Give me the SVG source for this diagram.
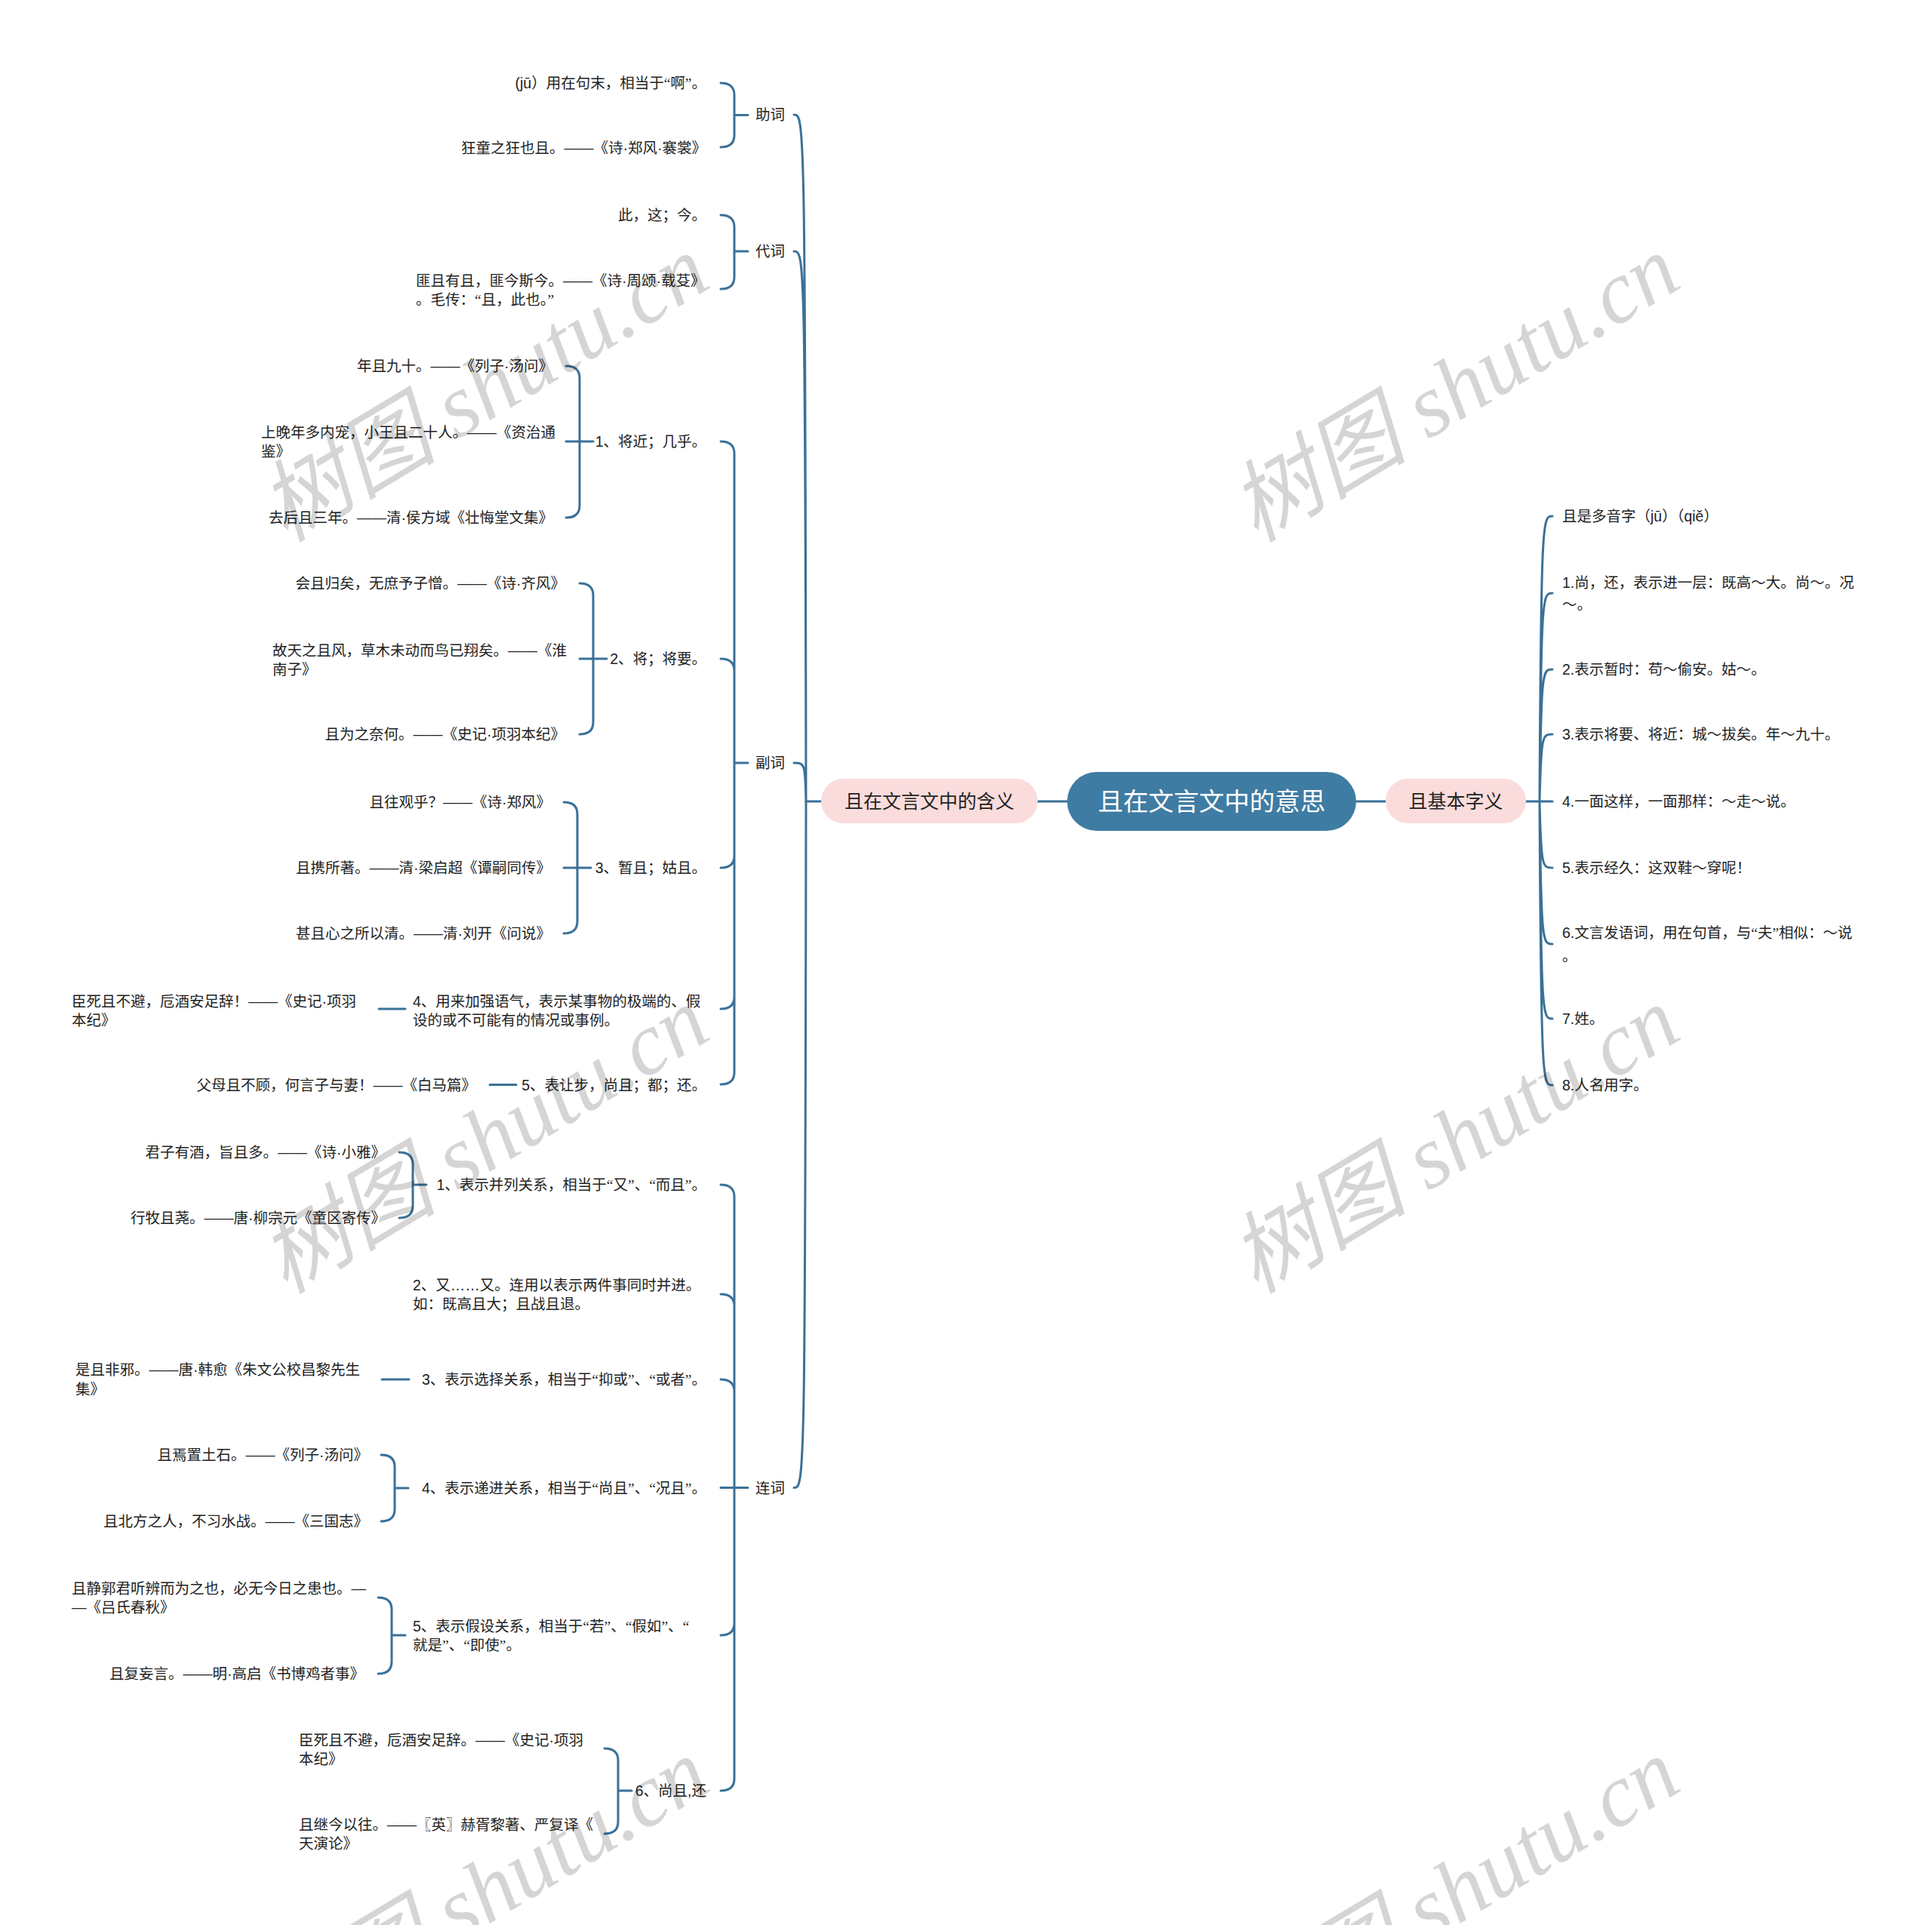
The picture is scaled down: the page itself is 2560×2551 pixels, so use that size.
<svg xmlns="http://www.w3.org/2000/svg" width="2560" height="2551" viewBox="0 0 2560 2551">
<style>
.t{font-family:"Liberation Sans","Noto Sans CJK SC",sans-serif;font-size:19.5px;fill:#222}
.q{font-family:"Liberation Serif","Noto Sans CJK SC",serif}
.r{text-anchor:end}
.c{stroke:#3b7198;stroke-width:3;fill:none;stroke-linecap:round}
.wm{font-family:"Liberation Serif","Noto Sans CJK SC",serif;font-style:italic;font-size:118px;fill:#000;opacity:0.16;text-anchor:middle}
</style>
<rect width="2560" height="2551" fill="#fff"/>
<g id="connectors">
<path class="c" d="M1375 1062H1414M1797 1062H1836M2021 1062H2057M1068 1062H1088"/>
<path class="c" d="M1068 1062C1067 152 1066 152 1052 152M1068 1062C1067 333 1066 333 1052 333M1068 1062C1067 1011 1066 1011 1052 1011M1068 1062C1067 1971.5 1066 1971.5 1052 1971.5"/>
<path class="c" d="M2040 1062C2042 684 2044 684 2057 684M2040 1062C2042 786 2044 786 2057 786M2040 1062C2042 887 2044 887 2057 887M2040 1062C2042 973 2044 973 2057 973M2040 1062C2042 1150 2044 1150 2057 1150M2040 1062C2042 1251 2044 1251 2057 1251M2040 1062C2042 1350 2044 1350 2057 1350M2040 1062C2042 1438 2044 1438 2057 1438"/>
<path class="c" d="M955 110Q973 110 973 126L973 179Q973 195 955 195M973 152.5H991"/>
<path class="c" d="M955 285Q973 285 973 301L973 367Q973 383 955 383M973 333H991"/>
<path class="c" d="M955 585Q973 585 973 601L973 1421Q973 1437 955 1437M955 873Q973 873 973 889M955 1150Q973 1150 973 1134M955 1337Q973 1337 973 1321M973 1011H991"/>
<path class="c" d="M750 485Q768 485 768 501L768 670Q768 686 750 686M750 585H786"/>
<path class="c" d="M768 773Q786 773 786 789L786 957Q786 973 768 973M768 873H804"/>
<path class="c" d="M747 1063Q765 1063 765 1079L765 1221Q765 1237 747 1237M747 1150H783"/>
<path class="c" d="M502 1337H537M649 1437.5H684"/>
<path class="c" d="M955 1570Q973 1570 973 1586L973 2357Q973 2373 955 2373M955 1715Q973 1715 973 1731M955 1828Q973 1828 973 1844M955 2167Q973 2167 973 2151M955 1971.5H991"/>
<path class="c" d="M529 1527Q547 1527 547 1543L547 1598Q547 1614 529 1614M547 1570H565"/>
<path class="c" d="M506 1828H542"/>
<path class="c" d="M505 1928Q523 1928 523 1944L523 2000Q523 2016 505 2016M523 1972H541"/>
<path class="c" d="M501 2117Q519 2117 519 2133L519 2202Q519 2218 501 2218M519 2167H537"/>
<path class="c" d="M801 2317Q819 2317 819 2333L819 2414Q819 2430 801 2430M819 2373H837"/>
</g>
<g id="root"><rect x="1414" y="1023" width="383" height="78" rx="39" fill="#3f7ca3"/><text x="1605.5" y="1074" font-family="Noto Sans CJK SC,sans-serif" font-size="33.5" fill="#fff" text-anchor="middle">且在文言文中的意思</text></g>
<g id="n-left"><rect x="1088" y="1032" width="287" height="59" rx="29.5" fill="#fadcdc"/><text x="1231.5" y="1071" font-family="Noto Sans CJK SC,sans-serif" font-size="25" fill="#222" text-anchor="middle">且在文言文中的含义</text></g>
<g id="n-right"><rect x="1836" y="1032" width="186" height="59" rx="29.5" fill="#fadcdc"/><text x="1929" y="1071" font-family="Noto Sans CJK SC,sans-serif" font-size="25" fill="#222" text-anchor="middle">且基本字义</text></g>
<g id="right-items">
<g id="r0"><text class="t" x="2070" y="691">且是多音字（jū）（qiě）</text></g>
<g id="r1"><text class="t" x="2070" y="779">1.尚，还，表示进一层：既高～大。尚～。况<tspan x="2070" dy="29">～。</tspan></text></g>
<g id="r2"><text class="t" x="2070" y="894">2.表示暂时：苟～偷安。姑～。</text></g>
<g id="r3"><text class="t" x="2070" y="980">3.表示将要、将近：城～拔矣。年～九十。</text></g>
<g id="r4"><text class="t" x="2070" y="1069">4.一面这样，一面那样：～走～说。</text></g>
<g id="r5"><text class="t" x="2070" y="1157">5.表示经久：这双鞋～穿呢！</text></g>
<g id="r6"><text class="t" x="2070" y="1243">6.文言发语词，用在句首，与<tspan class="q">“</tspan>夫<tspan class="q">”</tspan>相似：～说<tspan x="2070" dy="31">。</tspan></text></g>
<g id="r7"><text class="t" x="2070" y="1357">7.姓。</text></g>
<g id="r8"><text class="t" x="2070" y="1445">8.人名用字。</text></g>
</g>
<g id="l1-labels">
<g id="zhuci"><text class="t" x="1001" y="159">助词</text></g>
<g id="daici"><text class="t" x="1001" y="340">代词</text></g>
<g id="fuci"><text class="t" x="1001" y="1018">副词</text></g>
<g id="lianci"><text class="t" x="1001" y="1978.5">连词</text></g>
</g>
<g id="l2">
<g id="z1"><text class="t r" x="936" y="117">(jū）用在句末，相当于<tspan class="q">“</tspan>啊<tspan class="q">”</tspan>。</text></g>
<g id="z2"><text class="t r" x="936" y="203">狂童之狂也且。——《诗·郑风·褰裳》</text></g>
<g id="d1"><text class="t r" x="936" y="292">此，这；今。</text></g>
<g id="d2"><text class="t" x="551" y="379">匪且有且，匪今斯今。——《诗·周颂·载芟》<tspan x="551" dy="25">。毛传：</tspan><tspan class="q">“</tspan>且，此也。<tspan class="q">”</tspan></text></g>
<g id="f1"><text class="t r" x="936" y="592">1、将近；几乎。</text></g>
<g id="f2"><text class="t r" x="936" y="880">2、将；将要。</text></g>
<g id="f3"><text class="t r" x="936" y="1157">3、暂且；姑且。</text></g>
<g id="f4"><text class="t" x="547" y="1334">4、用来加强语气，表示某事物的极端的、假<tspan x="547" dy="25">设的或不可能有的情况或事例。</tspan></text></g>
<g id="f5"><text class="t r" x="936" y="1444.5">5、表让步，尚且；都；还。</text></g>
<g id="c1"><text class="t r" x="936" y="1577">1、表示并列关系，相当于<tspan class="q">“</tspan>又<tspan class="q">”</tspan>、<tspan class="q">“</tspan>而且<tspan class="q">”</tspan>。</text></g>
<g id="c2"><text class="t" x="547" y="1710">2、又……又。连用以表示两件事同时并进。<tspan x="547" dy="25">如：既高且大；且战且退。</tspan></text></g>
<g id="c3"><text class="t r" x="936" y="1835">3、表示选择关系，相当于<tspan class="q">“</tspan>抑或<tspan class="q">”</tspan>、<tspan class="q">“</tspan>或者<tspan class="q">”</tspan>。</text></g>
<g id="c4"><text class="t r" x="936" y="1979">4、表示递进关系，相当于<tspan class="q">“</tspan>尚且<tspan class="q">”</tspan>、<tspan class="q">“</tspan>况且<tspan class="q">”</tspan>。</text></g>
<g id="c5"><text class="t" x="547" y="2162">5、表示假设关系，相当于<tspan class="q">“</tspan>若<tspan class="q">”</tspan>、<tspan class="q">“</tspan>假如<tspan class="q">”</tspan>、<tspan class="q">“</tspan><tspan x="547" dy="25">就是</tspan><tspan class="q">”</tspan>、<tspan class="q">“</tspan>即使<tspan class="q">”</tspan>。</text></g>
<g id="c6"><text class="t r" x="936" y="2380">6、尚且,还</text></g>
</g>
<g id="l3">
<g id="f1a"><text class="t r" x="733" y="492">年且九十。——《列子·汤问》</text></g>
<g id="f1b"><text class="t" x="346" y="580">上晚年多内宠，小王且二十人。——《资治通<tspan x="346" dy="25">鉴》</tspan></text></g>
<g id="f1c"><text class="t r" x="733" y="693">去后且三年。——清·侯方域《壮悔堂文集》</text></g>
<g id="f2a"><text class="t r" x="749" y="780">会且归矣，无庶予子憎。——《诗·齐风》</text></g>
<g id="f2b"><text class="t" x="361" y="869">故天之且风，草木未动而鸟已翔矣。——《淮<tspan x="361" dy="25">南子》</tspan></text></g>
<g id="f2c"><text class="t r" x="749" y="980">且为之奈何。——《史记·项羽本纪》</text></g>
<g id="f3a"><text class="t r" x="730" y="1070">且往观乎？——《诗·郑风》</text></g>
<g id="f3b"><text class="t r" x="730" y="1157">且携所著。——清·梁启超《谭嗣同传》</text></g>
<g id="f3c"><text class="t r" x="730" y="1244">甚且心之所以清。——清·刘开《问说》</text></g>
<g id="f4a"><text class="t" x="95" y="1334">臣死且不避，卮酒安足辞！——《史记·项羽<tspan x="95" dy="25">本纪》</tspan></text></g>
<g id="f5a"><text class="t r" x="631" y="1445">父母且不顾，何言子与妻！——《白马篇》</text></g>
<g id="c1a"><text class="t r" x="511" y="1534">君子有酒，旨且多。——《诗·小雅》</text></g>
<g id="c1b"><text class="t r" x="511" y="1621">行牧且荛。——唐·柳宗元《童区寄传》</text></g>
<g id="c3a"><text class="t" x="100" y="1822">是且非邪。——唐·韩愈《朱文公校昌黎先生<tspan x="100" dy="26">集》</tspan></text></g>
<g id="c4a"><text class="t r" x="488" y="1935">且焉置土石。——《列子·汤问》</text></g>
<g id="c4b"><text class="t r" x="488" y="2023">且北方之人，不习水战。——《三国志》</text></g>
<g id="c5a"><text class="t" x="95" y="2112">且静郭君听辨而为之也，必无今日之患也。—<tspan x="95" dy="25">—《吕氏春秋》</tspan></text></g>
<g id="c5b"><text class="t r" x="483" y="2225">且复妄言。——明·高启《书博鸡者事》</text></g>
<g id="c6a"><text class="t" x="396" y="2313">臣死且不避，卮酒安足辞。——《史记·项羽<tspan x="396" dy="25">本纪》</tspan></text></g>
<g id="c6b"><text class="t" x="396" y="2425">且继今以往。——〖英〗赫胥黎著、严复译《<tspan x="396" dy="25">天演论》</tspan></text></g>
</g>
<g id="watermarks">
<text class="wm" x="641" y="555" transform="rotate(-31 641 514)">树图 shutu.cn</text>
<text class="wm" x="1927" y="555" transform="rotate(-31 1927 514)">树图 shutu.cn</text>
<text class="wm" x="641" y="1551" transform="rotate(-31 641 1510)">树图 shutu.cn</text>
<text class="wm" x="1927" y="1551" transform="rotate(-31 1927 1510)">树图 shutu.cn</text>
<text class="wm" x="641" y="2547" transform="rotate(-31 641 2506)">树图 shutu.cn</text>
<text class="wm" x="1927" y="2547" transform="rotate(-31 1927 2506)">树图 shutu.cn</text>
</g>
</svg>
